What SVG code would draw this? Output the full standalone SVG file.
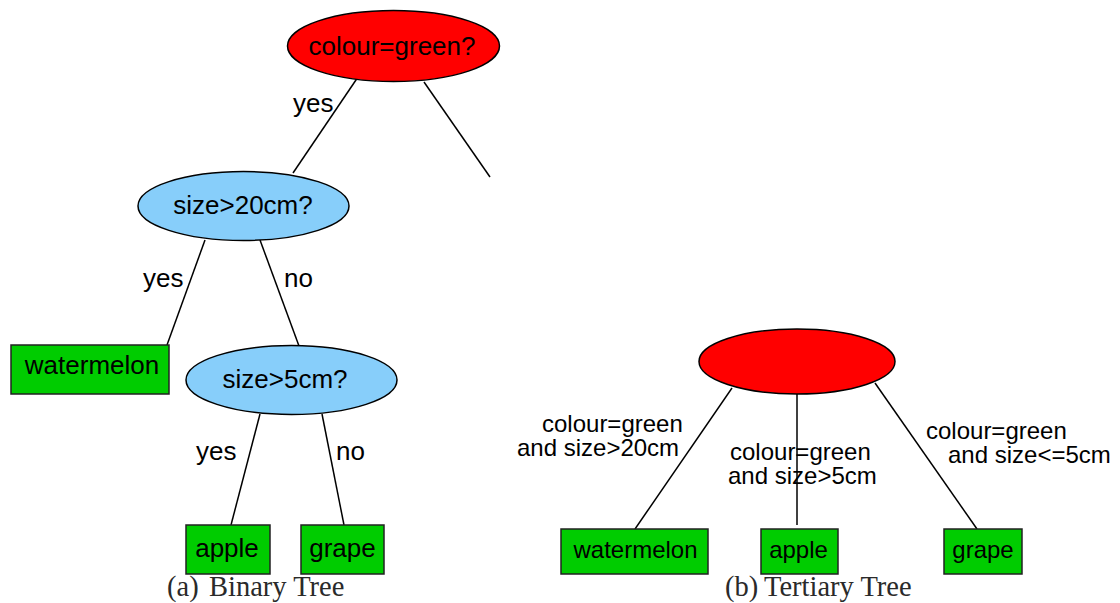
<svg xmlns="http://www.w3.org/2000/svg" width="1120" height="603" viewBox="0 0 1120 603">
<style>
.t{font-family:"Liberation Sans",Arial,sans-serif;fill:#000}
.a{font-size:26px}
.b{font-size:24px}
.m{text-anchor:middle}
.cap{font-family:"Liberation Serif","Times New Roman",serif;font-size:28.5px;fill:#2a2a2a}
.red{fill:#ff0000;stroke:#000;stroke-width:1.5}
.blue{fill:#87cefa;stroke:#000;stroke-width:1.5}
.leaf{fill:#00cc00;stroke:#222;stroke-width:1.5}
.e{stroke:#000;stroke-width:1.5;fill:none}
</style>
<rect width="1120" height="603" fill="#fff"/>
<g id="connectors">
  <line class="e" x1="358" y1="77" x2="293" y2="173"/>
  <line class="e" x1="424" y1="82" x2="490" y2="177"/>
  <line class="e" x1="205" y1="240" x2="167" y2="345"/>
  <line class="e" x1="260" y1="240" x2="299" y2="346"/>
  <line class="e" x1="260" y1="414" x2="231" y2="525"/>
  <line class="e" x1="322" y1="414" x2="344" y2="525"/>
  <line class="e" x1="732" y1="388" x2="635" y2="529"/>
  <line class="e" x1="797" y1="394" x2="797" y2="525"/>
  <line class="e" x1="875" y1="383" x2="977" y2="529"/>
  <text class="t a" x="293" y="112">yes</text>
  <text class="t a" x="143" y="287">yes</text>
  <text class="t a" x="284" y="287">no</text>
  <text class="t a" x="196" y="460">yes</text>
  <text class="t a" x="336" y="460">no</text>
  <text class="t b" x="542" y="432">colour=green</text>
  <text class="t b" x="517" y="456">and size&gt;20cm</text>
  <text class="t b" x="730" y="460">colour=green</text>
  <text class="t b" x="728" y="484">and size&gt;5cm</text>
  <text class="t b" x="926" y="439">colour=green</text>
  <text class="t b" x="948" y="463">and size&lt;=5cm</text>
</g>
<g id="n-colour">
  <ellipse class="red" cx="393.5" cy="46" rx="106" ry="35.5"/>
  <text class="t a m" x="392" y="55">colour=green?</text>
</g>
<g id="n-size20">
  <ellipse class="blue" cx="243.5" cy="206" rx="105.5" ry="34.5"/>
  <text class="t a m" x="243" y="214">size&gt;20cm?</text>
</g>
<g id="n-watermelon-a">
  <rect class="leaf" x="11" y="345" width="158" height="49"/>
  <text class="t a m" x="92" y="374">watermelon</text>
</g>
<g id="n-size5">
  <ellipse class="blue" cx="291.5" cy="380" rx="105.5" ry="34.5"/>
  <text class="t a m" x="285" y="388">size&gt;5cm?</text>
</g>
<g id="n-apple-a">
  <rect class="leaf" x="186" y="525" width="84" height="49"/>
  <text class="t a m" x="227" y="557">apple</text>
</g>
<g id="n-grape-a">
  <rect class="leaf" x="301" y="525" width="83" height="49"/>
  <text class="t a m" x="342.5" y="557">grape</text>
</g>
<g id="n-root-b">
  <ellipse class="red" cx="797" cy="361.5" rx="98" ry="32.5"/>
</g>
<g id="n-watermelon-b">
  <rect class="leaf" x="561" y="529" width="147" height="45"/>
  <text class="t b m" x="635.5" y="558">watermelon</text>
</g>
<g id="n-apple-b">
  <rect class="leaf" x="761" y="529" width="77" height="45"/>
  <text class="t b m" x="798.5" y="558">apple</text>
</g>
<g id="n-grape-b">
  <rect class="leaf" x="944" y="529" width="78" height="45"/>
  <text class="t b m" x="983" y="558">grape</text>
</g>
<g id="captions">
  <text class="cap" y="596"><tspan x="167">(a)</tspan><tspan x="209">Binary Tree</tspan></text>
  <text class="cap" y="596"><tspan x="725">(b)</tspan><tspan x="764">Tertiary Tree</tspan></text>
</g>
</svg>
